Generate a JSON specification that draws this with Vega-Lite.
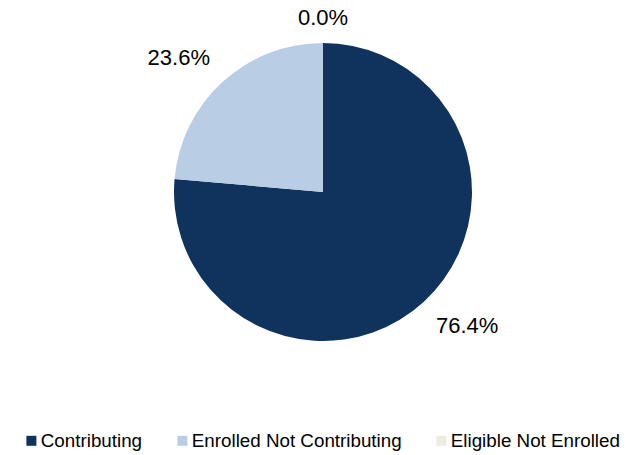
{
  "$schema": "https://vega.github.io/schema/vega-lite/v6.json",
  "width": 632,
  "height": 384,
  "autosize": "none",
  "padding": {"left": 7, "top": 0, "right": 0, "bottom": 71},
  "background": "white",
  "config": {"view": {"stroke": null}, "font": "Liberation Sans"},
  "data": {
    "values": [
      {"category": "Contributing", "value": 0.764},
      {"category": "Enrolled Not Contributing", "value": 0.236},
      {"category": "Eligible Not Enrolled", "value": 0.0}
    ]
  },
  "encoding": {
    "theta": {"field": "value", "type": "quantitative", "stack": true},
    "order": {"field": "value", "type": "quantitative", "sort": "descending"},
    "color": {
      "field": "category",
      "type": "nominal",
      "sort": ["Contributing", "Enrolled Not Contributing", "Eligible Not Enrolled"],
      "scale": {
        "domain": ["Contributing", "Enrolled Not Contributing", "Eligible Not Enrolled"],
        "range": ["#10335e", "#b9cde5", "#eeece1"]
      },
      "legend": {
        "title": null,
        "orient": "none",
        "legendX": 15,
        "legendY": 431,
        "direction": "horizontal",
        "symbolType": "square",
        "symbolSize": 100,
        "symbolStrokeWidth": 0,
        "labelFontSize": 18.8,
        "labelColor": "#000000",
        "labelFont": "Liberation Sans",
        "labelOffset": 0,
        "columnPadding": 30,
        "labelLimit": 400
      }
    }
  },
  "layer": [
    {
      "mark": {"type": "arc", "radius": 149}
    },
    {
      "mark": {"type": "text", "radius": 197, "thetaOffset": -0.08, "fontSize": 22, "font": "Liberation Sans"},
      "encoding": {
        "text": {"field": "value", "type": "quantitative", "format": ".1%"},
        "opacity": {"condition": {"test": "datum.value === 0", "value": 0}, "value": 1},
        "fill": {"value": "#000000"}
      }
    },
    {
      "mark": {"type": "text", "radius": 174, "fontSize": 22, "font": "Liberation Sans"},
      "encoding": {
        "text": {"field": "value", "type": "quantitative", "format": ".1%"},
        "opacity": {"condition": {"test": "datum.value === 0", "value": 1}, "value": 0},
        "fill": {"value": "#000000"}
      }
    }
  ]
}
